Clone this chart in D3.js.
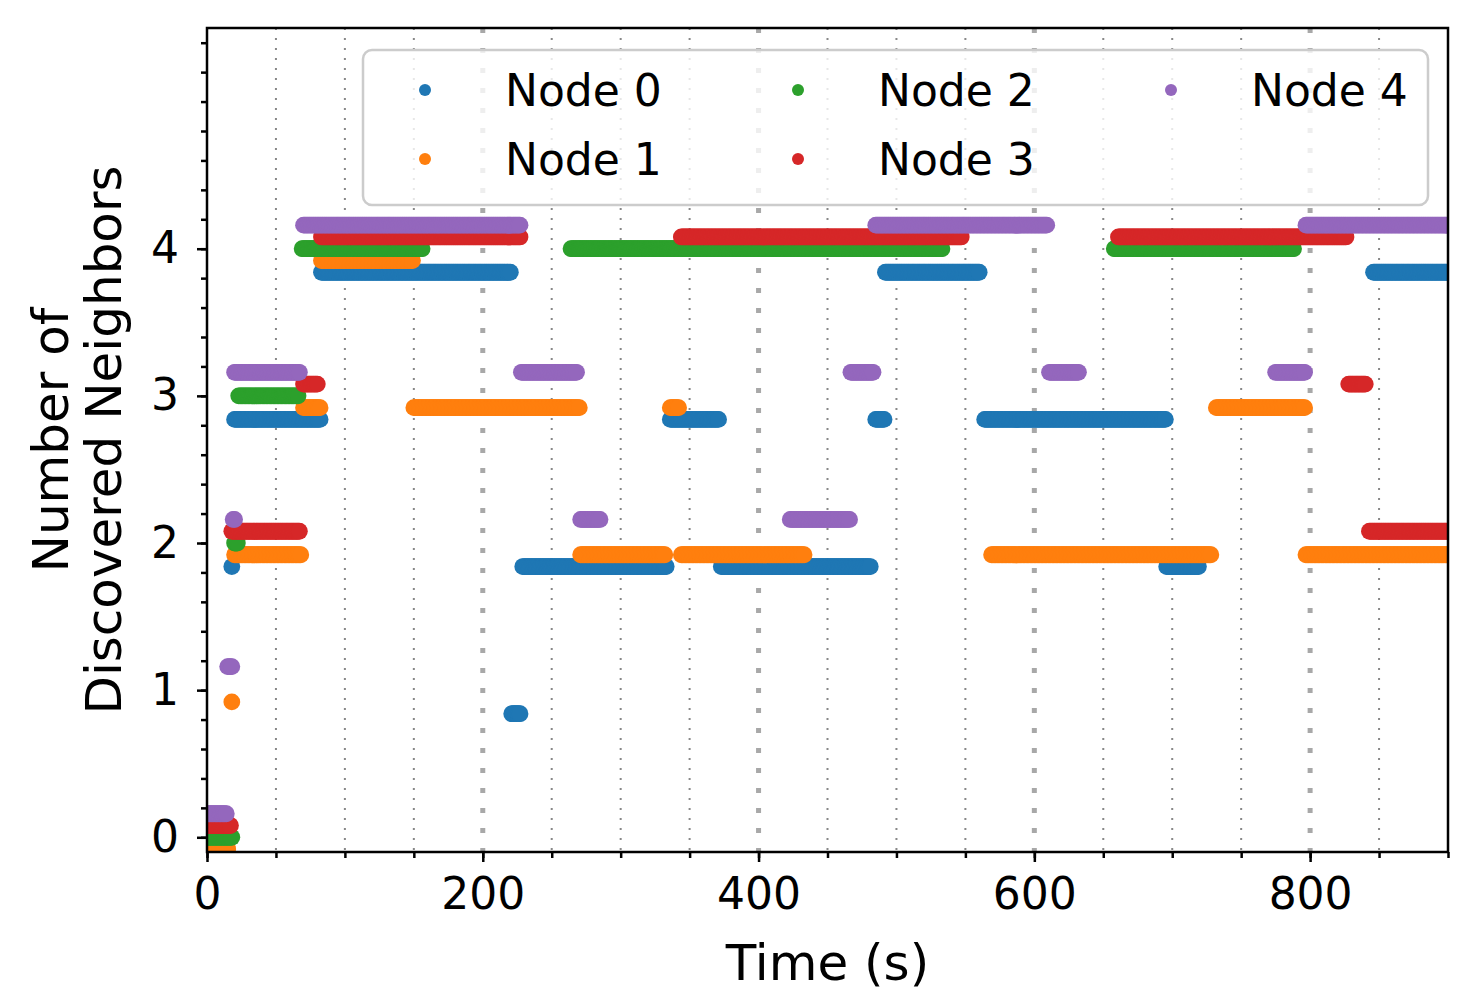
<!DOCTYPE html>
<html>
<head>
<meta charset="utf-8">
<script src="https://cdnjs.cloudflare.com/ajax/libs/d3/7.8.5/d3.min.js"></script>
<style>
  body { margin: 0; background: #fff; }
  svg text { font-family: "DejaVu Sans", sans-serif; fill: #000; }
</style>
</head>
<body>
<svg id="chart" width="1476" height="1004"></svg>
<script>
// segments per node: [startTime, endTime, neighbors]
var node0Segments = [[0, 14, 0], [18, 18, 2], [20, 82, 3], [83, 220, 4], [221, 227, 1], [229, 333, 2],
                     [336, 371, 3], [373, 481, 2], [485, 491, 3], [492, 560, 4], [564, 695, 3],
                     [696, 719, 2], [846, 900, 4]];
var node1Segments = [[0, 15, 0], [18, 18, 1], [20, 68, 2], [70, 82, 3], [83, 149, 4], [150, 270, 3],
                     [271, 332, 2], [336, 342, 3], [344, 433, 2], [569, 728, 2], [732, 796, 3],
                     [797, 900, 2]];
var node2Segments = [[0, 18, 0], [20, 22, 2], [23, 66, 3], [69, 156, 4], [264, 533, 4], [658, 788, 4]];
var node3Segments = [[0, 17, 0], [18, 67, 2], [70, 80, 3], [83, 227, 4], [344, 547, 4], [661, 826, 4],
                     [828, 840, 3], [843, 900, 2]];
var node4Segments = [[0, 14, 0], [15, 18, 1], [19, 20, 2], [20, 67, 3], [70, 227, 4], [228, 268, 3],
                     [271, 285, 2], [423, 466, 2], [467, 483, 3], [485, 609, 4], [611, 632, 3],
                     [775, 796, 3], [797, 900, 4]];

var nodeNames = ["Node 0", "Node 1", "Node 2", "Node 3", "Node 4"];
var nodeColors = ["#1f77b4", "#ff7f0e", "#2ca02c", "#d62728", "#9467bd"];
var nodeOffsets = [-0.16, -0.08, 0, 0.08, 0.16];
var xMajorTicks = [0, 200, 400, 600, 800];
var yMajorTicks = [0, 1, 2, 3, 4];

var allSegments = [node0Segments, node1Segments, node2Segments, node3Segments, node4Segments];

var margin = {left: 207, top: 28},
    width = 1241, height = 824;

var svg = d3.select("#chart");
var g = svg.append("g").attr("transform", "translate(" + margin.left + "," + margin.top + ")");

var x = d3.scaleLinear().domain([0, 900]).range([0, width]);
var y = d3.scaleLinear().domain([-0.1, 5.5]).range([height, 0]);

svg.append("defs").append("clipPath").attr("id", "plotclip")
    .append("rect").attr("width", width).attr("height", height);

// grid lines
var minorX = d3.range(0, 901, 50);
g.selectAll(".gminor").data(minorX.filter(function(d) { return d % 200 !== 0 || d === 0; }))
    .enter().append("line")
    .attr("x1", x).attr("x2", x).attr("y1", 0).attr("y2", height)
    .attr("stroke", "#888").attr("stroke-width", 2).attr("stroke-dasharray", "2,8");
g.selectAll(".gmajor").data(xMajorTicks.slice(1))
    .enter().append("line")
    .attr("x1", x).attr("x2", x).attr("y1", 0).attr("y2", height)
    .attr("stroke", "#a8a8a8").attr("stroke-width", 5).attr("stroke-dasharray", "5,15");

// points
var points = [];
allSegments.forEach(function(segs, i) {
    segs.forEach(function(s) {
        for (var t = s[0]; t <= s[1]; t++) {
            points.push({node: i, t: t, v: s[2] + nodeOffsets[i]});
        }
    });
});

g.append("g").attr("clip-path", "url(#plotclip)")
  .selectAll("circle").data(points).enter().append("circle")
    .attr("cx", function(d) { return x(d.t); })
    .attr("cy", function(d) { return y(d.v); })
    .attr("r", 8.4)
    .attr("fill", function(d) { return nodeColors[d.node]; });

// axes
var xAxis = g.append("g").attr("transform", "translate(0," + height + ")")
    .call(d3.axisBottom(x).tickValues(xMajorTicks).tickFormat(d3.format("d"))
        .tickSize(10).tickSizeOuter(0).tickPadding(16));
var xMinor = g.append("g").attr("transform", "translate(0," + height + ")")
    .call(d3.axisBottom(x).tickValues(minorX).tickFormat("").tickSize(6).tickSizeOuter(0));
var yAxis = g.append("g")
    .call(d3.axisLeft(y).tickValues(yMajorTicks).tickFormat(d3.format("d"))
        .tickSize(10).tickSizeOuter(0).tickPadding(18));
var yMinor = g.append("g")
    .call(d3.axisLeft(y).tickValues(d3.range(0, 5.5, 0.2)).tickFormat("").tickSize(6).tickSizeOuter(0));

[xAxis, xMinor, yAxis, yMinor].forEach(function(a) {
    a.select(".domain").remove();
    a.selectAll("line").attr("stroke", "#000").attr("stroke-width", 2.5);
    a.selectAll("text").style("font-size", "44px").attr("font-family", "DejaVu Sans");
});

// spines
g.append("rect").attr("width", width).attr("height", height)
    .attr("fill", "none").attr("stroke", "#000").attr("stroke-width", 2.5);

// axis labels
svg.append("text").attr("x", margin.left + width / 2).attr("y", 980)
    .attr("text-anchor", "middle").style("font-size", "50px").text("Time (s)");
var yl = svg.append("text").attr("transform", "translate(0," + (margin.top + height / 2) + ") rotate(-90)")
    .attr("text-anchor", "middle").style("font-size", "50px");
yl.append("tspan").attr("x", 0).attr("y", 68).text("Number of");
yl.append("tspan").attr("x", 0).attr("y", 121).text("Discovered Neighbors");

// legend
var legend = svg.append("g");
legend.append("rect").attr("x", 363).attr("y", 50).attr("width", 1065).attr("height", 155)
    .attr("rx", 9).attr("fill", "#fff").attr("fill-opacity", 0.8)
    .attr("stroke", "#ccc").attr("stroke-width", 2.5);
var colX = [425, 798, 1171], rowY = [90, 159];
nodeNames.forEach(function(name, i) {
    var cx = colX[Math.floor(i / 2)], cy = rowY[i % 2];
    legend.append("circle").attr("cx", cx).attr("cy", cy).attr("r", 6).attr("fill", nodeColors[i]);
    legend.append("text").attr("x", cx + 80).attr("y", cy).attr("dy", "0.36em")
        .style("font-size", "44px").text(name);
});
</script>
</body>
</html>
